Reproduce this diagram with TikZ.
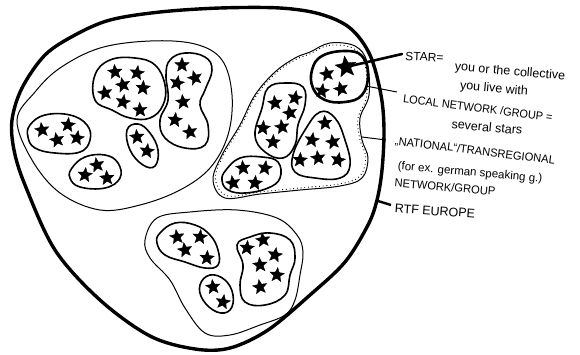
\documentclass[tikz,border=0pt]{standalone}
\usepackage{fontspec}
\setmainfont{Liberation Sans}
\usetikzlibrary{shapes.geometric}
\newcommand{\rlbl}[3]{\rotatebox{#1}{\fontsize{#2}{#2}\selectfont #3}}
\begin{document}
\begin{tikzpicture}[x=1pt,y=-1pt,
  starn/.style={star,star points=5,star point ratio=2.3,minimum size=15pt,inner sep=0pt,fill=black,draw=black,line width=0.4pt},
  outerline/.style={line width=3.4pt,line join=round},
  natline/.style={line width=1pt},
  locline/.style={line width=1.6pt},
  dotline/.style={line width=0.9pt,dash pattern=on 0.9pt off 2.8pt},
  lbl/.style={inner sep=0pt},
  conn/.style={line width=1pt}]
\useasboundingbox (0,0) rectangle (580,354);
\fill[white] (0,0) rectangle (580,354);

% outer RTF Europe
\draw[outerline] plot[smooth cycle,tension=0.55] coordinates {(12,120) (22,88) (45,55) (75,35) (110,20) (160,12) (220,8) (280,8) (320,14) (350,28) (370,55) (381,95) (384,130) (382,170) (377,200) (368,225) (345,262) (310,295) (268,330) (230,348) (195,349) (150,336) (100,300) (55,250) (25,185) (14,150)};

% left national group
\draw[natline] plot[smooth cycle,tension=0.6] coordinates {(17,120) (35,92) (60,68) (100,48) (150,41) (195,44) (222,60) (232,95) (228,135) (210,168) (180,190) (140,205) (100,210) (60,193) (32,160)};

% right (dotted) national group
\draw[natline] plot[smooth cycle,tension=0.6] coordinates {(310,52) (330,43) (355,46) (367,62) (369,95) (360,118) (362,140) (368,158) (362,178) (340,186) (300,190) (260,194) (225,198) (213,180) (222,155) (240,125) (255,95) (275,72) (295,58)};
\begin{scope}[scale around={0.97:(292,122)}]
\draw[dotline] plot[smooth cycle,tension=0.6] coordinates {(310,52) (330,43) (355,46) (367,62) (369,95) (360,118) (362,140) (368,158) (362,178) (340,186) (300,190) (260,194) (225,198) (213,180) (222,155) (240,125) (255,95) (275,72) (295,58)};
\end{scope}

% bottom national group
\draw[natline] plot[smooth cycle,tension=0.6] coordinates {(145,240) (157,218) (190,212) (237,210) (277,218) (297,235) (303,252) (300,275) (295,300) (285,315) (260,325) (230,335) (205,333) (185,308) (170,280) (150,258)};

% local groups
\draw[locline] plot[smooth cycle,tension=0.7] coordinates {(95,75) (110,60) (135,58) (155,65) (165,85) (163,105) (150,118) (130,118) (112,110) (95,100)};
\draw[locline] plot[smooth cycle,tension=0.7] coordinates {(170,60) (185,53) (205,57) (212,70) (205,90) (200,105) (208,125) (205,145) (185,148) (165,138) (160,120) (168,100) (166,75)};
\draw[locline] plot[smooth cycle,tension=0.7] coordinates {(30,125) (45,115) (70,115) (87,125) (90,140) (80,152) (55,153) (35,148) (28,137)};
\draw[locline] plot[smooth cycle,tension=0.7] coordinates {(127,130) (138,124) (150,133) (158,150) (155,166) (143,165) (130,150)};
\draw[locline] plot[smooth cycle,tension=0.7] coordinates {(72,168) (85,157) (105,155) (118,163) (120,178) (105,188) (80,187) (70,178)};
\draw[line width=2.6pt] plot[smooth cycle,tension=0.7] coordinates {(312,70) (322,56) (345,51) (362,56) (368,75) (362,95) (345,102) (325,100) (313,88)};
\draw[locline] plot[smooth cycle,tension=0.7] coordinates {(262,108) (268,88) (285,83) (303,87) (305,105) (298,125) (295,145) (283,158) (265,152) (255,135)};
\draw[locline] plot[smooth cycle,tension=0.7] coordinates {(320,112) (335,118) (345,140) (350,165) (340,178) (315,178) (295,172) (293,155) (305,130)};
\draw[locline] plot[smooth cycle,tension=0.7] coordinates {(226,170) (240,158) (262,157) (278,162) (280,178) (268,188) (245,193) (228,190) (222,180)};
\draw[locline] plot[smooth cycle,tension=0.7] coordinates {(160,233) (175,223) (195,225) (210,235) (218,250) (218,265) (205,268) (185,262) (165,255) (157,243)};
\draw[locline] plot[smooth cycle,tension=0.7] coordinates {(200,285) (210,275) (225,280) (233,295) (230,310) (217,312) (203,300)};
\draw[locline] plot[smooth cycle,tension=0.7] coordinates {(237,245) (250,237) (270,233) (290,240) (295,258) (290,275) (285,295) (265,305) (245,302) (240,285) (243,265)};

% stars
\foreach \x/\y/\r [count=\i] in {115/72/5,137/73/-8,123/85/12,143/88/-4,105/93/9,123/102/-10,140/110/3,
  182/65/0,195/78/15,177/83/-12,183/102/6,175/120/-6,190/132/10,
  42/130/8,68/125/-5,57/140/12,77/138/-9,
  137/137/5,147/151/-7,
  97/165/10,85/175/-6,107/178/4,
  327/74/10,322/91/-8,341/89/14,
  275/103/6,295/98/-10,290/113/12,263/128/-5,282/127/8,273/142/-3,
  325/123/4,312/140/-9,333/142/11,300/160/-4,318/158/7,338/160/-12,
  243/168/5,265/168/-8,233/183/10,255/183/-5,
  177/237/8,200/237/-6,185/250/10,207/258/-4,
  213/287/6,223/302/-9,
  247/248/-5,263/240/8,275/255/-10,260/265/5,277/275/-6,260/287/9}
  \node[starn,shape border rotate=\r] (s\i) at (\x,\y) {};
\node[starn,minimum size=22pt,shape border rotate=8] (fbig) at (346,67) {};

% labels
\node[lbl,anchor=west] (starlbl) at (405,57) {\rlbl{-3}{12}{STAR=}};
\node[lbl] (t2) at (510,72) {\rlbl{-5}{12.5}{you or the collective}};
\node[lbl] (t3) at (494,89) {\rlbl{-5}{12.5}{you live with}};
\node[lbl] (loclbl) at (478,108) {\rlbl{-7}{11.5}{\scalebox{0.95}[1]{LOCAL NETWORK /GROUP =}}};
\node[lbl] (t5) at (487,127) {\rlbl{-5}{12.5}{several stars}};
\node[lbl] (natlbl) at (475,151) {\rlbl{-7}{11.5}{\scalebox{0.97}[1]{„NATIONAL“/TRANSREGIONAL}}};
\node[lbl] (t7) at (470,173) {\rlbl{-5}{11.5}{(for ex. german speaking g.)}};
\node[lbl] (t8) at (445,187) {\rlbl{-5}{11.5}{\scalebox{0.97}[1]{NETWORK/GROUP}}};
\node[lbl] (rtflbl) at (435,211) {\rlbl{-4}{12.5}{RTF EUROPE}};

% connectors
\coordinate (fR) at (366,86);
\coordinate (natR) at (362,137);
\coordinate (rtfL) at (378,201);
\coordinate (starE) at (402,54);
\coordinate (locE) at (397,92);
\coordinate (natE) at (386,140);
\coordinate (rtfE) at (391,205);
\draw[line width=2.6pt,line cap=round] (fbig.center) -- (starE);
\draw[conn] (fR) -- (locE);
\draw[conn] (natR) -- (natE);
\draw[line width=2.4pt] (rtfL) -- (rtfE);
\end{tikzpicture}
\end{document}
